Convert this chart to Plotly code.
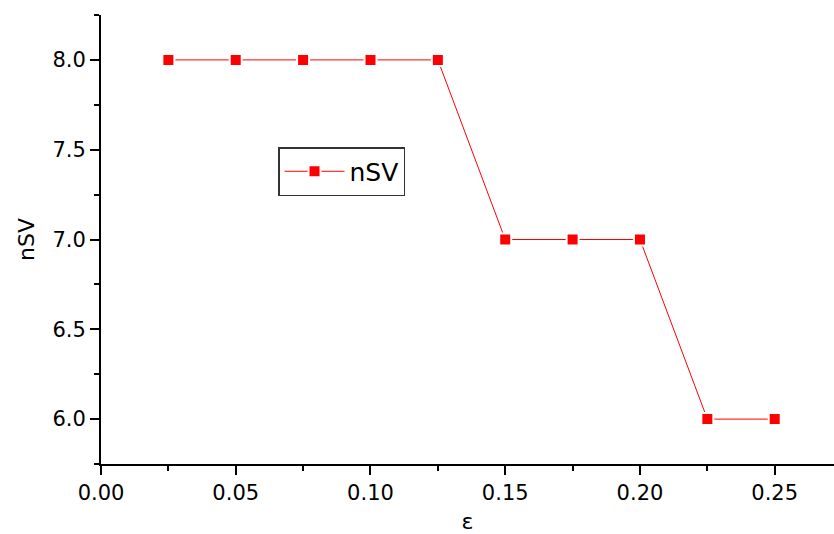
import plotly.graph_objects as go

eps = [0.025, 0.05, 0.075, 0.10, 0.125, 0.15, 0.175, 0.20, 0.225, 0.25]
nsv = [8, 8, 8, 8, 8, 7, 7, 7, 6, 6]
series_name = "nSV"
x_ticks = [0.00, 0.05, 0.10, 0.15, 0.20, 0.25]
x_ticklabels = ["0.00", "0.05", "0.10", "0.15", "0.20", "0.25"]
y_ticks = [6.0, 6.5, 7.0, 7.5, 8.0]
y_ticklabels = ["6.0", "6.5", "7.0", "7.5", "8.0"]

FONT = "DejaVu Sans, Arial"

fig = go.Figure()
fig.add_trace(go.Scatter(
    x=eps, y=nsv, mode="lines+markers", name=series_name,
    line=dict(color="#ff0000", width=1),
    marker=dict(symbol="square", size=12, color="#ff0000",
                line=dict(color="white", width=2)),
))

axis_common = dict(
    showline=True, linecolor="black", linewidth=2,
    ticks="outside", ticklen=9, tickwidth=2, tickcolor="black",
    showgrid=False, zeroline=False, automargin=False,
    tickfont=dict(family=FONT, size=21, color="black"),
    minor=dict(ticks="outside", ticklen=5, tickwidth=2, tickcolor="black", showgrid=False),
)

fig.update_xaxes(
    range=[0, 0.272], tickvals=x_ticks, ticktext=x_ticklabels,
    title=dict(text="ε", font=dict(family=FONT, size=22, color="black"), standoff=9),
    minor_dtick=0.025, minor_tick0=0,
    **axis_common,
)
fig.update_yaxes(
    range=[5.75, 8.25], tickvals=y_ticks, ticktext=y_ticklabels,
    title=dict(text="nSV", font=dict(family=FONT, size=22, color="black"), standoff=12),
    minor_dtick=0.25, minor_tick0=0,
    **axis_common,
)

fig.update_layout(
    width=834, height=534,
    margin=dict(l=101, r=0, t=15, b=70),
    plot_bgcolor="white", paper_bgcolor="white",
    showlegend=True,
    legend=dict(
        x=0.2415, y=0.706, xanchor="left", yanchor="top",
        bordercolor="#333333", borderwidth=1.5, bgcolor="white",
        font=dict(family=FONT, size=25, color="black"),
        itemwidth=60,
    ),
)

fig.write_html(
    "out.html",
    config={"displayModeBar": False},
    post_script="document.body.style.margin='0';document.body.style.overflow='hidden';",
)
